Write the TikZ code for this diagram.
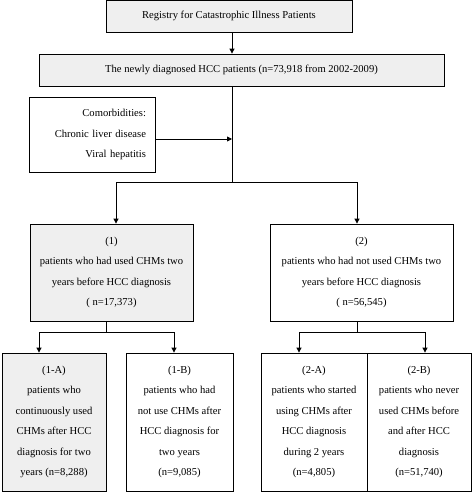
\documentclass[tikz,border=0pt]{standalone}
\usepackage{fontspec}
\setmainfont{Liberation Serif}
\usetikzlibrary{arrows.meta}
\definecolor{boxgray}{HTML}{EFEFEF}
\begin{document}
\begin{tikzpicture}[x=1pt,y=-1pt,
  box/.style={draw, line width=0.8pt, inner sep=0pt, align=center,
    font=\fontsize{10.6}{20.5}\selectfont},
  shaded/.style={fill=boxgray},
  ln/.style={line width=0.8pt},
  arr/.style={-{Triangle[length=5pt,width=5pt]}, line width=0.8pt}]
\useasboundingbox (0,0) rectangle (473,493);
\node[box,shaded,minimum width=246,minimum height=32] (reg) at (229,16) {Registry for Catastrophic Illness Patients};
\node[box,shaded,minimum width=405,minimum height=32] (new) at (241.5,70) {The newly diagnosed HCC patients (n=73,918 from 2002-2009)};
\node[box,minimum width=126,minimum height=75,text width=108,align=right] (com) at (92,134.5) {Comorbidities:\\Chronic liver disease\\Viral hepatitis};
\node[box,shaded,minimum width=163,minimum height=97] (g1) at (111.5,272.5) {(1)\\patients who had used CHMs two\\years before HCC diagnosis\\( n=17,373)};
\node[box,minimum width=183,minimum height=97] (g2) at (361.5,272.5) {(2)\\patients who had not used CHMs two\\years before HCC diagnosis\\( n=56,545)};
\node[box,shaded,minimum width=104,minimum height=138] (a1) at (54,422) {(1-A)\\patients who\\continuously used\\CHMs after HCC\\diagnosis for two\\years (n=8,288)};
\node[box,minimum width=107,minimum height=138] (b1) at (179.5,422) {(1-B)\\patients who had\\not use CHMs after\\HCC diagnosis for\\two years\\(n=9,085)};
\node[box,minimum width=106,minimum height=138] (a2) at (314,422) {(2-A)\\patients who started\\using CHMs after\\HCC diagnosis\\during 2 years\\(n=4,805)};
\node[box,minimum width=104,minimum height=138] (b2) at (419,422) {(2-B)\\patients who never\\used CHMs before\\and after HCC\\diagnosis\\(n=51,740)};
\coordinate (j) at (232,182);
\coordinate (j1) at (106,332);
\coordinate (j2) at (357,332);
\draw[arr] (reg.south -| j) -- (new.north -| j);
\draw[ln] (new.south -| j) -- (j);
\draw[arr] ([yshift=-4.5pt]com.east) coordinate (c) -- (c -| j);
\draw[arr] (j) -| ([xshift=4.5pt]g1.north);
\draw[arr] (j) -| ([xshift=-4.5pt]g2.north);
\draw[ln] (g1.south -| j1) -- (j1);
\draw[arr] (j1) -| ([xshift=-15pt]a1.north);
\draw[arr] (j1) -| ([xshift=-5.5pt]b1.north);
\draw[ln] (g2.south -| j2) -- (j2);
\draw[arr] (j2) -| ([xshift=-15pt]a2.north);
\draw[arr] (j2) -| ([xshift=6pt]b2.north);
\end{tikzpicture}
\end{document}
